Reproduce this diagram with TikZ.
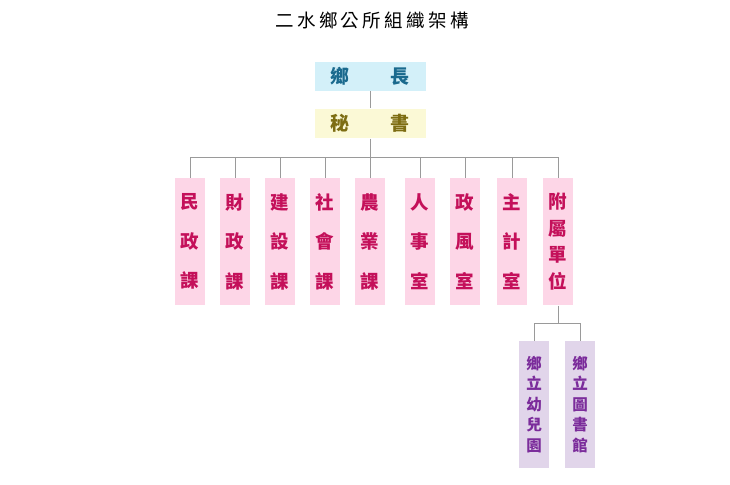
\documentclass[tikz,border=0pt]{standalone}
\usepackage{fontspec}
\setmainfont{Noto Sans CJK TC}
\newfontfamily\titlefont[LetterSpace=18]{Noto Sans CJK TC}

\definecolor{headfill}{HTML}{D3F0F9}
\definecolor{headtext}{HTML}{1A6A8E}
\definecolor{secfill}{HTML}{FBF9D6}
\definecolor{sectext}{HTML}{7D6D12}
\definecolor{deptfill}{HTML}{FDD6E7}
\definecolor{depttext}{HTML}{C4105A}
\definecolor{subfill}{HTML}{E1D5EA}
\definecolor{subtext}{HTML}{7B2C9B}
\definecolor{linkgray}{HTML}{9A9A9A}

\begin{document}
\begin{tikzpicture}[x=1pt, y=-1pt, line width=1pt,
  topbox/.style={minimum width=111pt, minimum height=29pt, inner sep=0pt,
    font=\fontsize{19}{19}\selectfont\bfseries},
  dept/.style={fill=deptfill, text=depttext, minimum width=30pt,
    minimum height=127pt, inner sep=0pt, align=center,
    font=\fontsize{18.5}{39.5}\selectfont\bfseries},
  subunit/.style={fill=subfill, text=subtext, minimum width=30pt,
    minimum height=127pt, inner sep=0pt, align=center,
    font=\fontsize{15.5}{20.5}\selectfont\bfseries},
  link/.style={draw=linkgray}]
  \useasboundingbox (0,0) rectangle (730,484);
  % title
  \node[font=\titlefont\fontsize{18.5}{18.5}\selectfont] (title) at (372,20) {二水鄉公所組織架構};
  % head and secretary
  \node[topbox, fill=headfill, text=headtext] (head) at (370,76.5) {鄉\hspace{41pt}長};
  \node[topbox, fill=secfill, text=sectext] (sec) at (370,123.5) {秘\hspace{41pt}書};
  \coordinate (bus) at (370,157);
  % departments
  \node[dept] (d1) at (190,241.5) {民\\政\\課};
  \node[dept] (d2) at (235,241.5) {財\\政\\課};
  \node[dept] (d3) at (280,241.5) {建\\設\\課};
  \node[dept] (d4) at (325,241.5) {社\\會\\課};
  \node[dept] (d5) at (370,241.5) {農\\業\\課};
  \node[dept] (d6) at (420,241.5) {人\\事\\室};
  \node[dept] (d7) at (465,241.5) {政\\風\\室};
  \node[dept] (d8) at (512,241.5) {主\\計\\室};
  \node[dept, font=\fontsize{18.5}{26.7}\selectfont\bfseries] (d9) at (558,241.5) {附\\屬\\單\\位};
  % attached units
  \coordinate (fork) at (558,323);
  \node[subunit] (s1) at (534,404.5) {鄉\\立\\幼\\兒\\園};
  \node[subunit] (s2) at (580,404.5) {鄉\\立\\圖\\書\\館};
  % connectors
  \draw[link] (head) -- (sec);
  \draw[link] (sec) -- (bus);
  \draw[link] (d1.north |- bus) -- (d9.north |- bus);
  \foreach \i in {1,...,9}
    \draw[link] (d\i.north) -- (d\i.north |- bus);
  \draw[link] (d9) -- (fork);
  \draw[link] (s1.north |- fork) -- (s2.north |- fork);
  \draw[link] (s1.north) -- (s1.north |- fork);
  \draw[link] (s2.north) -- (s2.north |- fork);
\end{tikzpicture}
\end{document}
